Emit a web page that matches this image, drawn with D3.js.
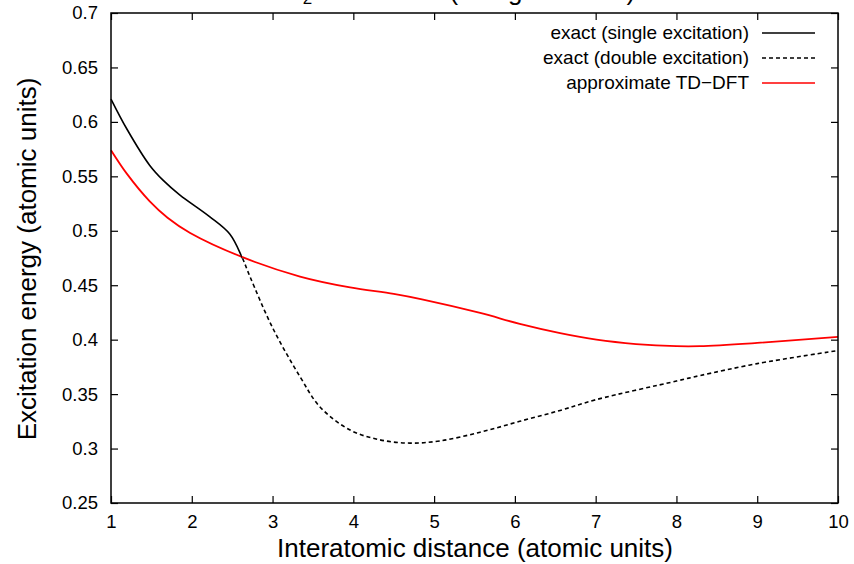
<!DOCTYPE html>
<html lang="en">
<head>
    <meta charset="UTF-8">
    <title>H2 excitation energies</title>
    <script src="https://d3js.org/d3.v7.min.js"></script>
    <style>
        body { margin: 0; background: white; }
        svg { display: block; font-family: "Liberation Sans", Arial, Helvetica, sans-serif; }
        .tick text { font-size: 18.5px; fill: black; }
        .frame { fill: none; stroke: black; stroke-width: 1.5px; }
    </style>
</head>
<body>
<svg id="canvas" width="854" height="564"></svg>
<script>
    // data
    // exact curve: single excitation up to the crossing, double excitation after it
    let exactX = [1, 1.2, 1.48, 1.65, 1.85, 2.22, 2.47, 2.62, 2.72, 3.0, 3.34, 3.59, 3.96, 4.33, 4.7, 5.07, 5.57, 6.06, 6.56, 7.01, 8.0, 8.29, 9.0, 10]
    let exactY = [0.621, 0.593, 0.560, 0.546, 0.533, 0.513, 0.497, 0.476, 0.458, 0.411, 0.366, 0.338, 0.317, 0.308, 0.305, 0.307, 0.315, 0.325, 0.335, 0.345, 0.362, 0.367, 0.378, 0.390]
    let crossingX = 2.62
    let tddftX = [1, 1.2, 1.48, 1.7, 1.98, 2.62, 3.34, 3.96, 4.5, 4.85, 5.57, 6.06, 6.56, 7.01, 7.5, 8.0, 8.29, 9.0, 10]
    let tddftY = [0.574, 0.552, 0.527, 0.512, 0.498, 0.476, 0.458, 0.448, 0.442, 0.437, 0.4245, 0.4145, 0.406, 0.400, 0.396, 0.394, 0.394, 0.397, 0.4025]
    let xTicks = [1, 2, 3, 4, 5, 6, 7, 8, 9, 10]
    let yTicks = [0.25, 0.3, 0.35, 0.4, 0.45, 0.5, 0.55, 0.6, 0.65, 0.7]
    let legendLabels = ["exact (single excitation)", "exact (double excitation)", "approximate TD\u2212DFT"]

    let svg = d3.select('svg')
    let mLeft = 111, mRight = 838, mTop = 13, mBottom = 503

    let x = d3.scaleLinear().domain([1, 10]).range([mLeft, mRight])
    let y = d3.scaleLinear().domain([0.25, 0.7]).range([mBottom, mTop])

    function zip(xs, ys) { return xs.map((v, i) => [v, ys[i]]) }

    // title, mostly cut off above the picture
    let title = svg.append('text').attr('x', 284).attr('y', 0).style('font-size', '26px')
    title.append('tspan').text('H')
    title.append('tspan').attr('dy', 4).style('font-size', '17px').text('2')
    title.append('tspan').attr('dy', -4).text(' excitations (sin')
    title.append('tspan').attr('x', 508).text('glet states)')

    // axes with inward ticks, mirrored
    let tl = 7
    svg.append('g').attr('transform', `translate(0,${mBottom})`)
        .call(d3.axisBottom(x).tickValues(xTicks).tickSize(-tl).tickPadding(12).tickFormat(d3.format('d')))
    svg.append('g').attr('transform', `translate(0,${mTop})`)
        .call(d3.axisTop(x).tickValues(xTicks).tickSize(-tl).tickFormat(''))
    svg.append('g').attr('transform', `translate(${mLeft},0)`)
        .call(d3.axisLeft(y).tickValues(yTicks).tickSize(-tl).tickPadding(13).tickFormat(d => String(+d.toFixed(2))))
    svg.append('g').attr('transform', `translate(${mRight},0)`)
        .call(d3.axisRight(y).tickValues(yTicks).tickSize(-tl).tickFormat(''))
    svg.selectAll('.domain').remove()
    svg.selectAll('.tick line').attr('stroke', 'black').attr('stroke-width', 1.2)

    // clip regions either side of the crossing
    let defs = svg.append('defs')
    defs.append('clipPath').attr('id', 'clipSingle').append('rect')
        .attr('x', 0).attr('y', 0).attr('width', x(crossingX)).attr('height', 564)
    defs.append('clipPath').attr('id', 'clipDouble').append('rect')
        .attr('x', x(crossingX)).attr('y', 0).attr('width', 854).attr('height', 564)

    let line = d3.line().x(d => x(d[0])).y(d => y(d[1])).curve(d3.curveCatmullRom.alpha(0.5))

    svg.append('path').datum(zip(tddftX, tddftY))
        .attr('d', line).attr('fill', 'none').attr('stroke', '#ff0000').attr('stroke-width', 1.8)
    svg.append('path').datum(zip(exactX, exactY))
        .attr('d', line).attr('fill', 'none').attr('stroke', 'black').attr('stroke-width', 1.6)
        .attr('clip-path', 'url(#clipSingle)')
    svg.append('path').datum(zip(exactX, exactY))
        .attr('d', line).attr('fill', 'none').attr('stroke', 'black').attr('stroke-width', 1.6)
        .attr('stroke-dasharray', '4,3')
        .attr('clip-path', 'url(#clipDouble)')

    svg.append('rect').attr('class', 'frame')
        .attr('x', mLeft).attr('y', mTop).attr('width', mRight - mLeft).attr('height', mBottom - mTop)

    // legend
    let styles = [
        {stroke: 'black', dash: null},
        {stroke: 'black', dash: '4,3'},
        {stroke: '#ff0000', dash: null}
    ]
    let legend = svg.append('g')
    legendLabels.forEach(function (lab, i) {
        let yy = 33 + i * 25
        legend.append('text').attr('x', 749).attr('y', yy + 6)
            .attr('text-anchor', 'end').style('font-size', '19px').text(lab)
        legend.append('line').attr('x1', 762).attr('x2', 815).attr('y1', yy).attr('y2', yy)
            .attr('stroke', styles[i].stroke).attr('stroke-width', 1.6)
            .attr('stroke-dasharray', styles[i].dash)
    })

    // axis titles
    svg.append('text').attr('x', 475).attr('y', 557)
        .attr('text-anchor', 'middle').style('font-size', '26px')
        .text('Interatomic distance (atomic units)')
    svg.append('text').attr('transform', `translate(36,259) rotate(-90)`)
        .attr('text-anchor', 'middle').style('font-size', '26px')
        .text('Excitation energy (atomic units)')
</script>
</body>
</html>
